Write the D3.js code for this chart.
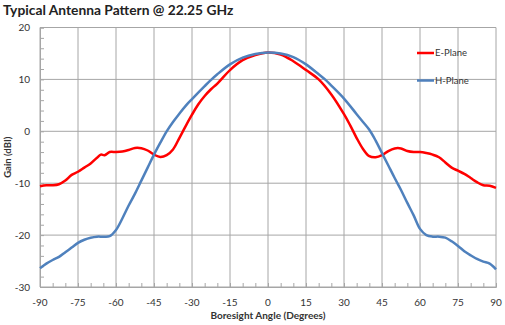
<!DOCTYPE html>
<html><head><meta charset="utf-8">
<script src="https://cdn.jsdelivr.net/npm/d3@7/dist/d3.min.js"></script>
<style>body{margin:0;background:#fff}svg{display:block}</style>
</head><body>
<script>
const title = "Typical Antenna Pattern @ 22.25 GHz";
const xLabel = "Boresight Angle (Degrees)";
const yLabel = "Gain (dBI)";
const xTicks = [-90,-75,-60,-45,-30,-15,0,15,30,45,60,75,90];
const yTicks = [-30,-20,-10,0,10,20];
const seriesNames = ["E-Plane","H-Plane"];
const seriesColors = ["#ff0000","#4f81bd"];

const eAngles = [-90,-87.5,-85,-82.5,-80,-77.5,-75,-72.5,-70,-67.5,-66,-64.5,-62.5,-60,-57.5,-55,-52.5,-50,-47.5,-45,-42.5,-40,-37.5,-35,-32.5,-30,-27.5,-25,-22.5,-20,-15,-10,-5,0,5,10,15,20,25,30,32.5,35,37.5,40,42.5,45,47.5,50,52.5,55,57.5,60,62.5,65,67.5,70,72.5,75,77.5,80,82.5,85,87.5,90];
const eGain = [-10.6,-10.4,-10.4,-10.2,-9.5,-8.4,-7.8,-7.0,-6.2,-5.1,-4.5,-4.6,-4.0,-4.0,-3.9,-3.6,-3.2,-3.25,-3.7,-4.5,-4.95,-4.6,-3.5,-1.3,1.0,3.2,5.2,6.8,8.1,9.2,11.8,13.7,14.7,15.2,14.8,13.5,11.8,10.0,7.1,3.3,1.1,-1.3,-3.4,-4.8,-5.0,-4.6,-3.8,-3.3,-3.3,-3.8,-4.0,-4.0,-4.2,-4.5,-5.0,-6.0,-7.0,-7.6,-8.2,-9.0,-9.8,-10.4,-10.5,-10.9];

const hAngles = [-90,-87.5,-85,-82.5,-80,-77.5,-75,-72.5,-70,-67.5,-65,-62.5,-60,-57.5,-55,-52.5,-50,-47.5,-45,-42.5,-40,-37.5,-35,-32.5,-30,-25,-22.5,-20,-15,-10,-5,0,5,10,15,20,22.5,25,30,35,37.5,40,42.5,45,47.5,50,52.5,55,57.5,60,62.5,65,67.5,70,72.5,75,77.5,80,82.5,85,87.5,90];
const hGain = [-26.4,-25.5,-24.8,-24.2,-23.3,-22.4,-21.5,-20.9,-20.5,-20.3,-20.3,-20.2,-19.0,-16.8,-14.3,-12.0,-9.5,-7.0,-4.5,-2.2,0.0,1.8,3.4,4.9,6.2,8.7,9.9,11.0,12.9,14.2,14.9,15.2,15.0,14.3,12.9,11.0,10.0,8.8,6.3,3.3,1.8,0.3,-1.8,-4.2,-6.6,-9.0,-11.3,-13.8,-16.2,-18.8,-20.0,-20.3,-20.3,-20.5,-21.2,-22.1,-23.1,-23.9,-24.6,-25.1,-25.5,-26.6];

const W = 505, H = 325;
const m = {left: 40, right: 9, top: 27.5, bottom: 38};
const svg = d3.select("body").append("svg").attr("width", W).attr("height", H);
const x = d3.scaleLinear().domain([-90, 90]).range([m.left, W - m.right]);
const y = d3.scaleLinear().domain([-30, 20]).range([H - m.bottom, m.top]);
const gridColor = "#a6a6a6";
const font = "Lato, 'Open Sans', sans-serif";

// gridlines
svg.append("g").selectAll("line.v").data(xTicks).join("line")
  .attr("x1", d => x(d)).attr("x2", d => x(d)).attr("y1", y(-30)).attr("y2", y(20))
  .attr("stroke", gridColor).attr("stroke-width", 1);
svg.append("g").selectAll("line.h").data(yTicks).join("line")
  .attr("x1", x(-90)).attr("x2", x(90)).attr("y1", d => y(d)).attr("y2", d => y(d))
  .attr("stroke", gridColor).attr("stroke-width", 1);

// axes with minor inward ticks
const xAxis = d3.axisBottom(x).tickValues(d3.range(-90, 91, 5)).tickSize(-4).tickFormat("");
svg.append("g").attr("transform", `translate(0,${y(-30)})`).call(xAxis)
  .call(g => g.selectAll("line,path").attr("stroke", gridColor));
const yAxis = d3.axisLeft(y).tickValues(d3.range(-30, 21, 2)).tickSize(-4).tickFormat("");
svg.append("g").attr("transform", `translate(${x(-90)},0)`).call(yAxis)
  .call(g => g.selectAll("line,path").attr("stroke", gridColor));

// tick labels
svg.append("g").selectAll("text").data(xTicks).join("text")
  .attr("x", d => x(d)).attr("y", y(-30) + 19).attr("text-anchor", "middle")
  .attr("font-family", font).attr("font-size", 10).attr("fill", "#333").text(d => d);
svg.append("g").selectAll("text").data(yTicks).join("text")
  .attr("x", 30).attr("y", d => y(d) + 3.5).attr("text-anchor", "end")
  .attr("font-family", font).attr("font-size", 10).attr("fill", "#333").text(d => d);

// titles
svg.append("text").attr("x", 3).attr("y", 15).attr("font-family", font)
  .attr("font-weight", "bold").attr("font-size", 13.8).attr("fill", "#222").text(title);
svg.append("text").attr("x", x(0)).attr("y", 319).attr("text-anchor", "middle")
  .attr("font-family", font).attr("font-weight", "bold").attr("font-size", 10).attr("fill", "#333").text(xLabel);
svg.append("text").attr("transform", `translate(11,${y(-5)}) rotate(-90)`).attr("text-anchor", "middle")
  .attr("font-family", font).attr("font-weight", "bold").attr("font-size", 9.5).attr("fill", "#333").text(yLabel);

// series
const line = d3.line().x(d => x(d[0])).y(d => y(d[1])).curve(d3.curveCatmullRom.alpha(0.5));
const series = [d3.zip(eAngles, eGain), d3.zip(hAngles, hGain)];
svg.append("g").selectAll("path").data(series).join("path")
  .attr("d", line).attr("fill", "none").attr("stroke", (d, i) => seriesColors[i])
  .attr("stroke-width", 2.5).attr("stroke-linejoin", "round");

// legend
const lg = svg.append("g").selectAll("g").data(seriesNames).join("g")
  .attr("transform", (d, i) => `translate(417,${53 + i * 27.5})`);
lg.append("line").attr("x1", 0).attr("x2", 17).attr("stroke", (d, i) => seriesColors[i]).attr("stroke-width", 2.5);
lg.append("text").attr("x", 18).attr("y", 3.3).attr("font-family", font).attr("font-size", 9.5)
  .attr("fill", "#333").text(d => d);
</script>
</body></html>
